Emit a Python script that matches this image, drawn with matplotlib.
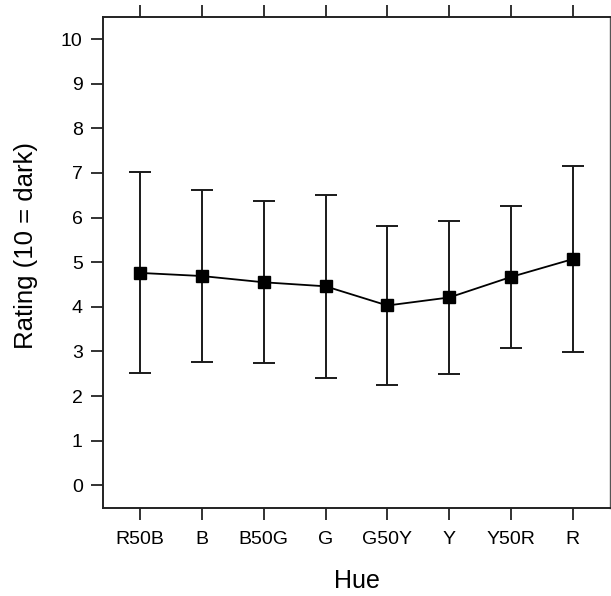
import matplotlib
matplotlib.use("Agg")
import matplotlib.pyplot as plt
import numpy as np

hues = ["R50B", "B", "B50G", "G", "G50Y", "Y", "Y50R", "R"]
mean_rating = [4.76, 4.69, 4.55, 4.46, 4.03, 4.21, 4.67, 5.07]
sd_rating = [2.25, 1.92, 1.81, 2.05, 1.77, 1.72, 1.60, 2.08]
y_ticks = list(range(0, 11))

plt.rcParams["font.family"] = ["Liberation Sans", "DejaVu Sans"]

fig = plt.figure(figsize=(6.11, 5.96), dpi=100)
ax = fig.add_axes([103 / 611, (596 - 507.7) / 596, (610 - 103) / 611, (507.7 - 16.7) / 596])

x = np.arange(1, len(hues) + 1)
ax.errorbar(x, mean_rating, yerr=sd_rating, fmt="none", ecolor="#1a1a1a",
            elinewidth=1.4, capsize=8, capthick=1.4)
ax.plot(x, mean_rating, color="black", linewidth=1.3, marker="s",
        markersize=8, markerfacecolor="black", markeredgecolor="black")

ax.set_xlim(0.4, 8.6)
ax.set_ylim(-0.5, 10.5)
ax.set_xticks(x)
ax.set_xticklabels(hues)
ax.set_yticks(y_ticks)
ax.set_yticklabels([str(v) for v in y_ticks])

ax.tick_params(axis="both", direction="out", length=8.6, width=1.3,
               color="#222222", labelsize=14, pad=6)
ax.tick_params(axis="x", top=True, labeltop=False, pad=8)
ax.tick_params(axis="y", right=True, labelright=False)

for side in ["left", "top", "bottom"]:
    ax.spines[side].set_linewidth(1.4)
    ax.spines[side].set_color("#222222")
ax.spines["right"].set_linewidth(1.0)
ax.spines["right"].set_color("#555555")

ax.set_xlabel("Hue", fontsize=18, labelpad=15)
ax.set_ylabel("Rating (10 = dark)", fontsize=18.5)
ax.yaxis.set_label_coords(-0.128, 0.535)

fig.savefig("out.png", dpi=100)
